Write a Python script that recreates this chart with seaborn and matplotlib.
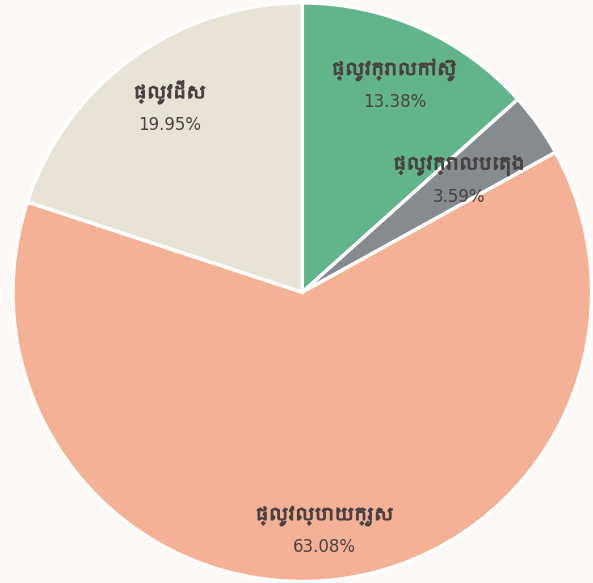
import matplotlib
matplotlib.use("Agg")
import numpy as np
import matplotlib.pyplot as plt
import matplotlib.patheffects as pe
from matplotlib import font_manager
from matplotlib.transforms import offset_copy
import seaborn as sns

# road surface shares
categories = ["ផ្លូវក្រាលកៅស៊ូ", "ផ្លូវក្រាលបេតុង", "ផ្លូវល្បាយក្រួស", "ផ្លូវដីស"]
shares = [13.38, 3.59, 63.08, 19.95]
colors = ["#62b58a", "#858b8e", "#f5b196", "#e9e3d7"]
label_r = [0.78, 0.665, 0.83, 0.78]

sns.set_theme(style="white")

# look for any font with Khmer glyphs, fall back to DejaVu
khmer_fonts = [f.name for f in font_manager.fontManager.ttflist if "khmer" in f.name.lower()]
families = khmer_fonts[:1] + ["DejaVu Sans"]
plt.rcParams["font.family"] = families

bg = "#fdf9f6"
txt = "#4a4242"
fig, ax = plt.subplots(figsize=(5.93, 5.83), dpi=100)
fig.patch.set_facecolor(bg)
ax.set_facecolor(bg)

wedges, _ = ax.pie(
    shares, colors=colors, startangle=90, counterclock=False,
    wedgeprops=dict(edgecolor="white", linewidth=2.5),
)

up = offset_copy(ax.transData, fig=fig, y=4, units="points")
down = offset_copy(ax.transData, fig=fig, y=-5, units="points")
for w, name, val, r in zip(wedges, categories, shares, label_r):
    ang = np.deg2rad((w.theta1 + w.theta2) / 2)
    x, y = r * np.cos(ang), r * np.sin(ang)
    ax.text(x, y, name, transform=up, ha="center", va="bottom", fontsize=12.5,
            fontweight="bold", color=txt,
            path_effects=[pe.withStroke(linewidth=0.9, foreground=txt)])
    ax.text(x, y, f"{val:.2f}%", transform=down, ha="center", va="top", fontsize=12,
            color=txt, family="DejaVu Sans")

ax.set_aspect("equal")
ax.set_xlim(-1.04, 1.0)
ax.set_ylim(-1.005, 1.01)
plt.subplots_adjust(left=0.0, right=1.0, top=1.0, bottom=0.0)
plt.savefig("out.png", dpi=100, facecolor=bg)
plt.close()
